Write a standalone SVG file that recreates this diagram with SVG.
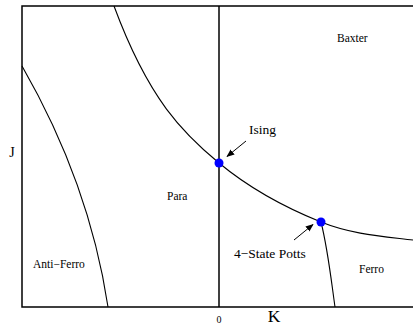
<svg xmlns="http://www.w3.org/2000/svg" width="413" height="327" viewBox="0 0 413 327">
<style>
.ax{stroke:#000;stroke-width:1.5;fill:none}
.cv{stroke:#000;stroke-width:1.1;fill:none}
.t{font-family:"Liberation Serif","Times New Roman",serif;fill:#000}
.dot{fill:#0000ff}
.ar{stroke:#000;stroke-width:1;fill:none;marker-end:url(#ah)}
</style>
<defs>
<marker id="ah" viewBox="0 0 10 10" refX="9" refY="5" markerWidth="8" markerHeight="8" markerUnits="userSpaceOnUse" orient="auto">
<path d="M0,1 L10,5 L0,9 Z" fill="#000"/>
</marker>
</defs>
<rect width="413" height="327" fill="#fff"/>
<g id="axes">
<path class="ax" d="M413,6 H22 V307 H413"/>
<path class="ax" d="M219,6 V307"/>
<text class="t" x="219" y="323" font-size="10" text-anchor="middle">0</text>
<text class="t" x="274" y="322" font-size="17.5" text-anchor="middle">K</text>
<text class="t" x="12" y="157" font-size="14" text-anchor="middle">J</text>
</g>
<g id="connectors">
<path class="cv" d="M114,6 C149,100.5 184,134 219,163 C253,191.2 287,208.3 321,222 C351.7,234.4 382.3,236.3 413,240"/>
<path class="cv" d="M22,66 C68,146 96,227 108,307"/>
<path class="cv" d="M321,222 C328,250 331,279 335,307"/>
<path class="ar" d="M246,141 L227,156.5"/>
<path class="ar" d="M294,240 L313,224.5"/>
</g>
<g id="ising">
<circle class="dot" cx="219" cy="163" r="4.5"/>
<text class="t" x="249" y="134" font-size="13.5">Ising</text>
</g>
<g id="potts">
<circle class="dot" cx="321" cy="222" r="4.5"/>
<text class="t" x="234" y="258" font-size="13.5">4−State Potts</text>
</g>
<g id="baxter"><text class="t" x="337" y="42" font-size="11.5">Baxter</text></g>
<g id="para"><text class="t" x="167" y="200" font-size="11.5">Para</text></g>
<g id="antiferro"><text class="t" x="33" y="268" font-size="11.5">Anti−Ferro</text></g>
<g id="ferro"><text class="t" x="359" y="273" font-size="11.5">Ferro</text></g>
</svg>
